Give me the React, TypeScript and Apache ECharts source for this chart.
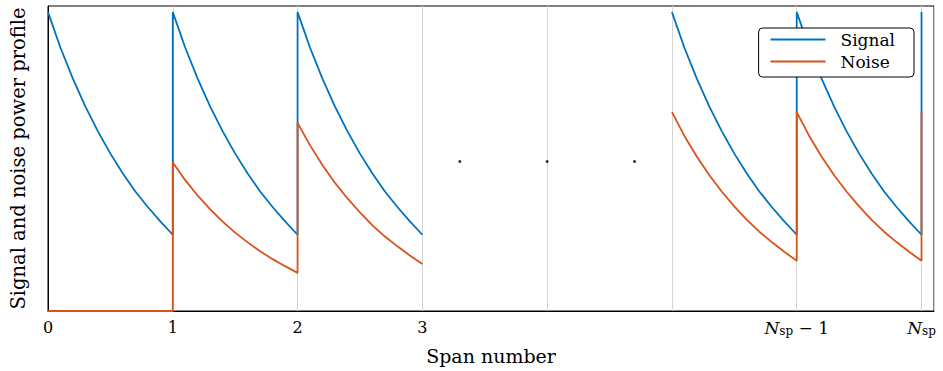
import React, { useEffect, useRef } from "react";
import * as echarts from "echarts";

// Span offsets within one span (fraction of a span)
const spanSteps = [0, 0.1, 0.2, 0.3, 0.4, 0.5, 0.6, 0.7, 0.8, 0.9, 1.0];

// Signal power profile within a span (same in every span)
const signalProfile = [0.98, 0.863, 0.761, 0.67, 0.589, 0.516, 0.451, 0.392, 0.341, 0.294, 0.25];
const signalSpansA = [0, 1, 2];
const signalSpansB = [5, 6];
const signalFinalJump = [0.25, 0.98];

// Noise power profiles
const noiseZero = [[0, 0], [1, 0]];
const noiseSpan1 = [0.487, 0.429, 0.378, 0.333, 0.293, 0.257, 0.225, 0.196, 0.17, 0.147, 0.125];
const noiseSpan2 = [0.617, 0.543, 0.478, 0.42, 0.369, 0.323, 0.281, 0.244, 0.212, 0.182, 0.154];
const noiseSpanLate = [0.652, 0.574, 0.506, 0.445, 0.391, 0.343, 0.299, 0.26, 0.226, 0.194, 0.165];
const noiseLateSpans = [5, 6];
const noiseFinalJump = [0.165, 0.652];

// Ellipsis dots
const dotsX = [3.3, 4.0, 4.7];
const dotsY = [0.49, 0.49, 0.49];

// Tick labels
const tickLabels: Record<number, string> = {
  0: "0",
  1: "1",
  2: "2",
  3: "3",
  4: "",
  5: "",
  6: "{i|N}{s|sp}{m| − 1}",
  7: "{i|N}{s|sp}",
};

const BLUE = "#0072BD";
const ORANGE = "#D95319";
const FONT = "'DejaVu Serif', 'Liberation Serif', serif";

function spanPoints(start: number, profile: number[]) {
  return spanSteps.map((t, i) => [start + t, profile[i]]);
}

export default function App() {
  const ref = useRef<HTMLDivElement>(null);
  useEffect(() => {
    if (!ref.current) return;
    const chart = echarts.init(ref.current, null, { renderer: "svg" });

    const sigA = signalSpansA.flatMap((s) => spanPoints(s, signalProfile));
    const sigB = [
      ...signalSpansB.flatMap((s) => spanPoints(s, signalProfile)),
      [7, signalFinalJump[0]],
      [7, signalFinalJump[1]],
    ];
    const noiseA = [
      ...noiseZero,
      ...spanPoints(1, noiseSpan1),
      ...spanPoints(2, noiseSpan2),
    ];
    const noiseB = [
      ...noiseLateSpans.flatMap((s) => spanPoints(s, noiseSpanLate)),
      [7, noiseFinalJump[0]],
      [7, noiseFinalJump[1]],
    ];

    const lineBase = {
      type: "line" as const,
      symbol: "none",
      showSymbol: false,
      smooth: false,
      silent: true,
    };
    const LW = 1.8;

    chart.setOption({
      animation: false,
      grid: {
        left: 48,
        right: 9,
        top: 6,
        bottom: 60,
        show: true,
        borderColor: "#000",
        borderWidth: 1,
        backgroundColor: "transparent",
      },
      legend: {
        data: ["Signal", "Noise"],
        orient: "vertical",
        right: 29,
        top: 28,
        itemWidth: 55,
        itemHeight: 14,
        itemGap: 5,
        padding: [3, 19, 7, 11],
        borderColor: "#000",
        borderWidth: 1,
        borderRadius: 4,
        backgroundColor: "#fff",
        itemStyle: { opacity: 0 },
        lineStyle: { width: LW },
        textStyle: {
          fontFamily: FONT,
          fontSize: 17,
          color: "#000",
          padding: [0, 0, 0, 10],
        },
      },
      xAxis: {
        type: "value",
        min: 0,
        max: 7.1,
        interval: 1,
        name: "Span number",
        nameLocation: "middle",
        nameGap: 35,
        nameTextStyle: { fontFamily: FONT, fontSize: 19, color: "#000", verticalAlign: "top" },
        axisLine: { show: true, lineStyle: { color: "#000", width: 1 } },
        axisTick: { show: false },
        splitLine: { show: true, lineStyle: { color: "#d4d4d4", width: 1 } },
        axisLabel: {
          margin: 8,
          showMaxLabel: false,
          fontFamily: FONT,
          fontSize: 16,
          color: "#000",
          formatter: (v: number) => (Number.isInteger(v) ? tickLabels[v] ?? "" : ""),
          rich: {
            i: { fontFamily: FONT, fontStyle: "italic", fontSize: 17, color: "#000" },
            s: { fontFamily: FONT, fontSize: 12, color: "#000", padding: [6, 0, 0, 0] },
            m: { fontFamily: FONT, fontSize: 17, color: "#000" },
          },
        },
      },
      yAxis: {
        type: "value",
        min: 0,
        max: 1,
        name: "Signal and noise power profile",
        nameLocation: "middle",
        nameGap: 20,
        nameTextStyle: { fontFamily: FONT, fontSize: 19.5, color: "#000" },
        axisLine: { show: true, lineStyle: { color: "#000", width: 1 } },
        axisTick: { show: false },
        axisLabel: { show: false },
        splitLine: { show: false },
      },
      series: [
        { ...lineBase, name: "Signal", data: sigA, lineStyle: { color: BLUE, width: LW }, itemStyle: { color: BLUE }, z: 2 },
        { ...lineBase, name: "Signal", data: sigB, lineStyle: { color: BLUE, width: LW }, itemStyle: { color: BLUE }, z: 2 },
        { ...lineBase, name: "Noise", data: noiseA, lineStyle: { color: ORANGE, width: LW }, itemStyle: { color: ORANGE }, z: 3 },
        { ...lineBase, name: "Noise", data: noiseB, lineStyle: { color: ORANGE, width: LW }, itemStyle: { color: ORANGE }, z: 3 },
        {
          type: "scatter",
          name: "dots",
          data: dotsX.map((x, i) => [x, dotsY[i]]),
          symbol: "circle",
          symbolSize: 3,
          itemStyle: { color: "#000" },
          silent: true,
          z: 4,
        },
      ],
    });
    return () => chart.dispose();
  }, []);
  return (
    <div
      ref={ref}
      style={{ position: "absolute", left: 0, top: 0, width: 943, height: 371 }}
    />
  );
}
